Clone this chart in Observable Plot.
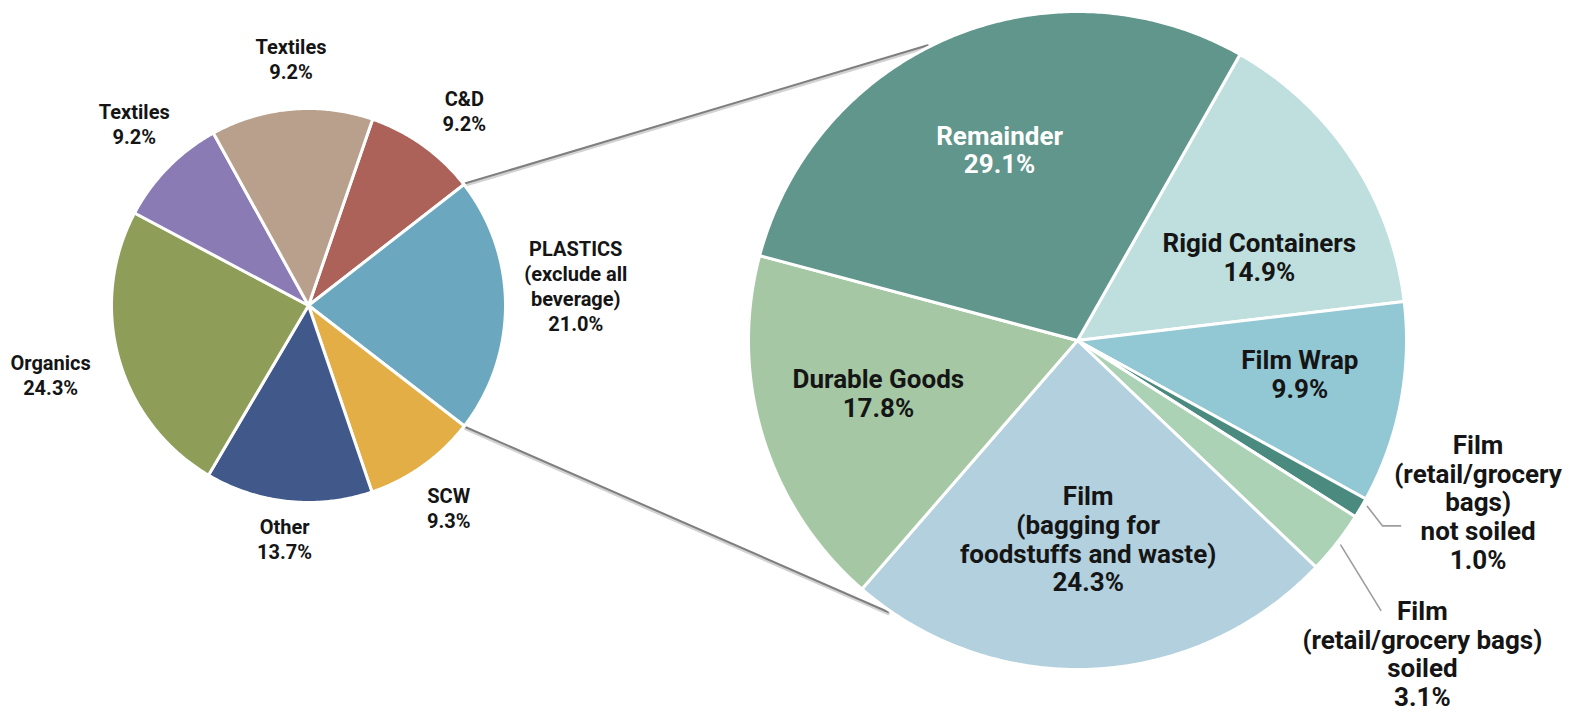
<!DOCTYPE html>
<html>
<head>
<meta charset="utf-8">
<script src="https://cdn.jsdelivr.net/npm/d3@7"></script>
<script src="https://cdn.jsdelivr.net/npm/@observablehq/plot@0.6"></script>
<style>
  html, body { margin: 0; padding: 0; background: #ffffff; }
  #chart svg { display: block; }
</style>
</head>
<body>
<div id="chart"></div>
<script>
// ---------------- DATA ----------------
// Left pie: overall waste composition (clockwise from C&D)
const leftCategories = ["C&D", "PLASTICS (exclude all beverage)", "SCW", "Other", "Organics", "Textiles", "Textiles"];
const leftShares = [9.2, 21.0, 9.3, 13.7, 24.3, 9.2, 13.3]; // last slice drawn larger than its printed label
const leftLabels = [
  "C&D\n9.2%",
  "PLASTICS\n(exclude all\nbeverage)\n21.0%",
  "SCW\n9.3%",
  "Other\n13.7%",
  "Organics\n24.3%",
  "Textiles\n9.2%",
  "Textiles\n9.2%"
];
const leftColors = ["#ad6259", "#6ca7c0", "#e2ae45", "#41598a", "#8e9e58", "#8a7bb5", "#b8a08d"];

// Right pie: plastics breakdown (clockwise from Rigid Containers)
const rightCategories = [
  "Rigid Containers", "Film Wrap", "Film (retail/grocery bags) not soiled",
  "Film (retail/grocery bags) soiled", "Film (bagging for foodstuffs and waste)",
  "Durable Goods", "Remainder"
];
const rightShares = [14.9, 9.9, 1.0, 3.1, 24.3, 17.8, 29.1];
const rightLabels = [
  "Rigid Containers\n14.9%",
  "Film Wrap\n9.9%",
  "Film\n(retail/grocery\nbags)\nnot soiled\n1.0%",
  "Film\n(retail/grocery bags)\nsoiled\n3.1%",
  "Film\n(bagging for\nfoodstuffs and waste)\n24.3%",
  "Durable Goods\n17.8%",
  "Remainder\n29.1%"
];
const rightColors = ["#bedfdd", "#92c7d4", "#4b8a7f", "#acd2b6", "#b2d0dd", "#a5c7a4", "#60968c"];
const rightWhiteText = ["Remainder"];

// ---------------- LAYOUT ----------------
const W = 1577, H = 712;
const LEFT = {cx: 308, cy: 305, r: 197, start: 19};
const RIGHT = {cx: 1077, cy: 340, r: 329, start: 29.6};
// [angle nudge from slice mid (deg), distance from centre (px)]
const leftLabelPlace = [[3.0, 250], [-4.2, 268], [0.8, 246], [0, 234], [0.7, 267], [1.7, 252], [0.9, 248]];
const rightLabelPlace = [[9.0, 200], [-2.3, 225], [-8.6, 432], [4.3, 466], [-0.3, 199], [2.2, 206], [0.5, 206]];
// leader lines for small slices: list of [nudge, distance] points, optional horizontal tail
const leaderPlace = [
  {slice: 2, pts: [[-0.8, 334], [0.7, 357]], tail: 18},
  {slice: 3, pts: [[-0.1, 333.5], [3.7, 406]], tail: 0}
];
// connectors between the pies: right-end polar position on the right pie
const connectorEnds = [[333.1, 331], [214.9, 331]];

// ---------------- HELPERS ----------------
const rad = (d) => d * Math.PI / 180;
const deg = (r) => r * 180 / Math.PI;
function polar(c, angleDeg, dist) {
  return {x: c.cx + dist * Math.sin(rad(angleDeg)), y: c.cy - dist * Math.cos(rad(angleDeg))};
}
function pieArcs(shares, c) {
  return d3.pie().sort(null).value(d => d)
    .startAngle(rad(c.start)).endAngle(rad(c.start) + 2 * Math.PI)(shares);
}
function slicePoints(arcs, ids, c) {
  const pts = [];
  arcs.forEach((a, i) => {
    const id = ids[i];
    pts.push({id, x: c.cx, y: c.cy});
    const a0 = deg(a.startAngle), a1 = deg(a.endAngle);
    const n = Math.max(2, Math.ceil((a1 - a0) / 0.5));
    for (let k = 0; k <= n; k++) {
      const p = polar(c, a0 + (a1 - a0) * k / n, c.r);
      pts.push({id, x: p.x, y: p.y});
    }
  });
  return pts;
}
const mid = (a) => deg((a.startAngle + a.endAngle) / 2);

// ---------------- BUILD ----------------
const leftIds = leftCategories.map((c, i) => "L" + i + " " + c);
const rightIds = rightCategories.map((c, i) => "R" + i + " " + c);
const leftArcs = pieArcs(leftShares, LEFT);
const rightArcs = pieArcs(rightShares, RIGHT);
const leftPts = slicePoints(leftArcs, leftIds, LEFT);
const rightPts = slicePoints(rightArcs, rightIds, RIGHT);

const leftText = leftArcs.map((a, i) => {
  const p = polar(LEFT, mid(a) + leftLabelPlace[i][0], leftLabelPlace[i][1]);
  return {x: p.x, y: p.y, text: leftLabels[i]};
});
const rightText = rightArcs.map((a, i) => {
  const p = polar(RIGHT, mid(a) + rightLabelPlace[i][0], rightLabelPlace[i][1]);
  return {x: p.x, y: p.y, text: rightLabels[i], white: rightWhiteText.includes(rightCategories[i])};
});

const leaderPts = [];
leaderPlace.forEach((l, j) => {
  const m = mid(rightArcs[l.slice]);
  let last;
  l.pts.forEach(([n, d]) => { last = polar(RIGHT, m + n, d); leaderPts.push({id: j, ...last}); });
  if (l.tail) leaderPts.push({id: j, x: last.x + l.tail, y: last.y});
});

const connPts = [];
[leftArcs[0].endAngle, leftArcs[1].endAngle].forEach((ang, j) => {
  const s = polar(LEFT, deg(ang), LEFT.r * 1.01);
  const e = polar(RIGHT, connectorEnds[j][0], connectorEnds[j][1]);
  connPts.push({id: j, ...s}, {id: j, ...e});
});

const font = "Roboto, 'Liberation Sans', Arial, sans-serif";

const chart = Plot.plot({
  width: W,
  height: H,
  margin: 0,
  x: {type: "linear", domain: [0, W], range: [0, W], axis: null},
  y: {type: "linear", domain: [0, H], range: [0, H], axis: null},
  color: {type: "ordinal", domain: [...leftIds, ...rightIds], range: [...leftColors, ...rightColors]},
  style: {background: "#ffffff", fontFamily: font},
  marks: [
    Plot.line(connPts, {x: "x", y: "y", z: "id", stroke: "#d2d2d2", strokeWidth: 3.5, dy: 1.5}),
    Plot.line(connPts, {x: "x", y: "y", z: "id", stroke: "#7f7f7f", strokeWidth: 2}),
    Plot.line(leftPts, {x: "x", y: "y", z: "id", fill: "id", stroke: "#ffffff", strokeWidth: 3, strokeLinejoin: "round", curve: "linear-closed"}),
    Plot.line(rightPts, {x: "x", y: "y", z: "id", fill: "id", stroke: "#ffffff", strokeWidth: 3, strokeLinejoin: "round", curve: "linear-closed"}),
    Plot.line(leaderPts, {x: "x", y: "y", z: "id", stroke: "#9d9d9d", strokeWidth: 1.6}),
    Plot.text(leftText, {x: "x", y: "y", text: "text", fontSize: 20, fontWeight: 700, lineHeight: 1.25, fill: "#151515", fontFamily: font}),
    Plot.text(rightText.filter(d => !d.white), {x: "x", y: "y", text: "text", fontSize: 26, fontWeight: 700, lineHeight: 1.1, fill: "#151515", fontFamily: font}),
    Plot.text(rightText.filter(d => d.white), {x: "x", y: "y", text: "text", fontSize: 26, fontWeight: 700, lineHeight: 1.1, fill: "#ffffff", fontFamily: font})
  ]
});
document.getElementById("chart").appendChild(chart);
</script>
</body>
</html>
